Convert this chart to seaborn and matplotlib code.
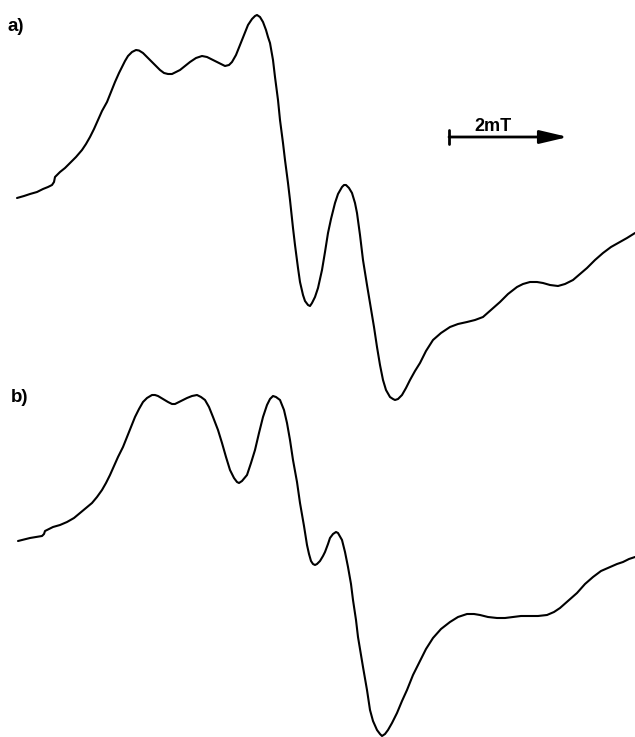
import matplotlib
matplotlib.use("Agg")
import matplotlib.pyplot as plt
import seaborn as sns
import pandas as pd

# Field positions (arbitrary field units; 2 mT = 119 units) and first-derivative
# EPR intensities (a.u.) for the two spectra.
field_a = [17, 24, 30, 37, 43, 48, 52, 54, 55, 57, 60, 65, 70, 76, 82, 86, 90, 94,
           98, 102, 107, 111, 115, 119, 122, 125, 128, 132, 136, 139, 143, 147, 152,
           156, 160, 164, 168, 172, 176, 180, 185, 190, 196, 202, 207, 213, 219, 225,
           229, 232, 236, 240, 244, 248, 252, 255, 257, 260, 263, 266, 268, 270, 273,
           275, 278, 280, 283, 285, 288, 290, 293, 295, 298, 300, 303, 305, 308, 310,
           312, 315, 318, 322, 325, 328, 331, 335, 338, 342, 344, 346, 349, 352, 355,
           357, 360, 363, 367, 370, 374, 377, 380, 383, 386, 390, 393, 395, 398, 402,
           406, 410, 415, 420, 426, 433, 441, 450, 458, 467, 475, 483, 491, 500, 508,
           517, 523, 530, 537, 543, 550, 558, 565, 573, 580, 587, 595, 603, 611, 620,
           627, 635]
signal_a = [2, 4, 6, 8, 11, 13, 15, 18, 23, 25, 28, 32, 37, 43, 50, 56, 63, 71,
            80, 89, 98, 108, 118, 127, 133, 139, 144, 148, 150, 149.5, 147, 143, 138,
            134, 130, 127, 126, 126, 128, 130, 134, 138, 142, 144, 143, 140, 137, 134,
            135, 138, 145, 155, 165, 175, 181, 184, 185, 183, 178, 170, 163, 157, 140,
            123, 100, 80, 57, 40, 17, 0, -28, -45, -68, -82, -95, -101, -105, -106,
            -103, -97, -88, -70, -52, -33, -19, -3, 6, 13, 15, 15, 12, 7, -3,
            -13, -35, -60, -85, -103, -127, -147, -165, -180, -190, -197, -199, -200, -199, -195,
            -188, -180, -171, -163, -151, -140, -133, -127, -124, -122, -120, -117, -110, -102, -94,
            -87, -84, -82, -82, -83, -85, -86, -84, -80, -74, -68, -60, -53, -47, -42,
            -38, -33]

field_b = [18, 24, 30, 36, 42, 44, 45, 49, 53, 60, 67, 74, 80, 86, 92, 97, 102, 106,
           110, 114, 118, 123, 127, 131, 135, 139, 143, 147, 152, 155, 158, 163, 168,
           172, 175, 179, 183, 187, 192, 197, 201, 205, 209, 213, 218, 222, 226, 230,
           234, 237, 239, 242, 247, 251, 255, 259, 263, 267, 270, 273, 276, 280, 284,
           287, 290, 293, 297, 300, 304, 307, 309, 311, 313, 315, 317, 320, 323, 325,
           328, 330, 333, 336, 338, 342, 345, 348, 351, 353, 356, 358, 361, 363, 367,
           370, 373, 377, 380, 382, 385, 388, 392, 397, 402, 407, 413, 420, 426, 433,
           441, 450, 458, 467, 474, 480, 488, 497, 505, 513, 521, 530, 538, 547, 554,
           560, 568, 577, 585, 593, 601, 610, 617, 623, 629, 635]
signal_b = [-1, 0.5, 2, 3, 4, 6, 9, 11, 13, 15, 18, 22, 27, 32, 37, 43, 50, 57,
            65, 74, 83, 93, 103, 113, 123, 131, 138, 142, 145, 145, 144, 141, 138,
            136, 136, 138, 140, 142, 144, 145, 143, 140, 133, 123, 110, 97, 83, 70,
            62, 58, 57, 59, 65, 77, 90, 107, 123, 135, 141, 144, 143, 140, 130,
            117, 100, 80, 58, 37, 14, -5, -14, -21, -24, -25, -24, -21, -16, -12,
            -4, 2, 6, 8, 7, 0, -12, -27, -44, -60, -80, -97, -115, -127, -150,
            -170, -181, -190, -194, -196, -194, -190, -183, -173, -161, -150, -135, -121, -109, -98,
            -89, -82, -77, -74, -74, -75, -77, -78, -78, -77, -76, -76, -76, -75, -72,
            -68, -61, -53, -44, -37, -31, -27, -24, -22, -19, -17]

panel_labels = ["a)", "b)"]
scale_label = "2mT"
scale_mT = 2.0
units_per_mT = 59.5

# vertical offsets used to stack the spectra
offset_a = 0
offset_b = -340

df_a = pd.DataFrame({"field": field_a, "signal": [s + offset_a for s in signal_a]})
df_b = pd.DataFrame({"field": field_b, "signal": [s + offset_b for s in signal_b]})

sns.set_style("white")
fig = plt.figure(figsize=(6.35, 7.37), dpi=100)
ax = fig.add_axes([0, 0, 1, 1])

for df in (df_a, df_b):
    sns.lineplot(data=df, x="field", y="signal", ax=ax, color="black",
                 linewidth=1.5, estimator=None, sort=False,
                 solid_joinstyle="round", solid_capstyle="round")

ax.set_xlim(0, 635)
ax.set_ylim(-537, 200)
ax.set_axis_off()

# panel labels
ax.text(7, 174, panel_labels[0], fontsize=13.5, fontweight="bold", color="black",
        family="Liberation Sans", ha="left", va="center")
ax.text(11, -197, panel_labels[1], fontsize=13.5, fontweight="bold", color="black",
        family="Liberation Sans", ha="left", va="center")

# field scale bar with arrow
x0 = 449
x1 = x0 + scale_mT * units_per_mT
ybar = 63
ax.annotate("", xy=(x1, ybar), xytext=(x0, ybar),
            arrowprops=dict(arrowstyle="-|>,head_length=1.7,head_width=0.4",
                            color="black", lw=2, mutation_scale=10,
                            shrinkA=0, shrinkB=0))
ax.plot([x0, x0], [ybar - 7, ybar + 7], color="black", lw=2)
ax.text(493, 74, scale_label, fontsize=13, fontweight="bold", color="black",
        family="Liberation Sans", ha="center", va="center")

fig.savefig("out.png", dpi=100)
